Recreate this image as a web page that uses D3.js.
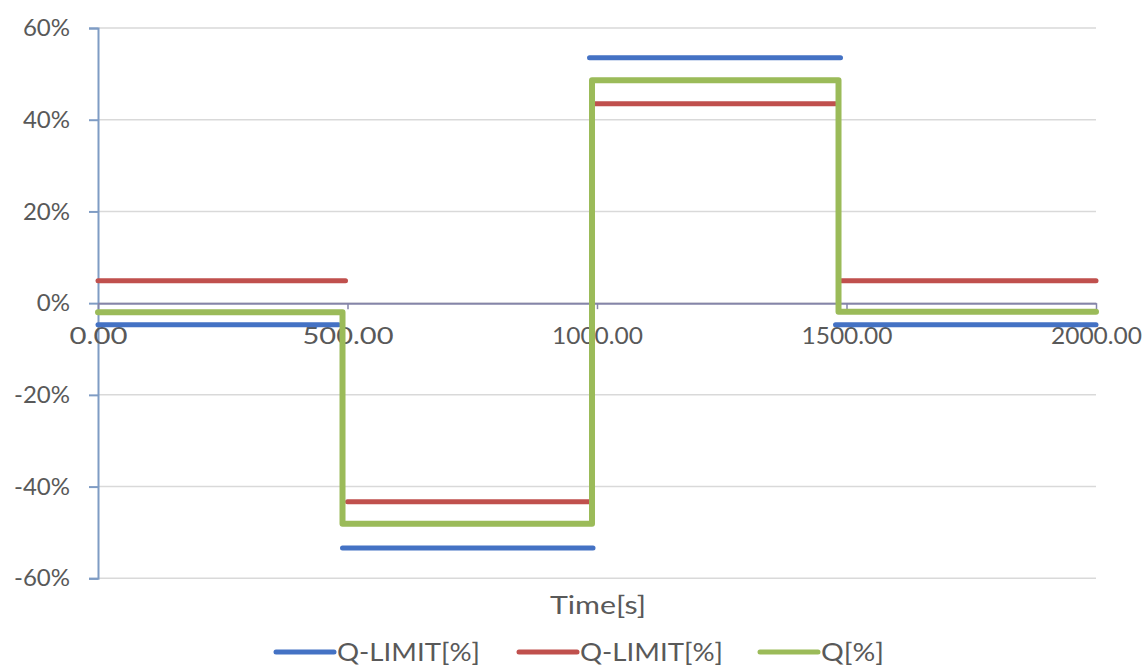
<!DOCTYPE html>
<html><head><meta charset="utf-8">
<script src="https://cdn.jsdelivr.net/npm/d3@7"></script>
<style>body{margin:0;background:#fff}svg{display:block}text{font-family:Lato,"Open Sans",sans-serif;fill:#595959}</style>
</head><body><svg id="c" width="1146" height="666"></svg>
<script>
// ---- data ----
const xTicks = [0, 500, 1000, 1500, 2000];
const yTicks = [-60, -40, -20, 0, 20, 40, 60];
const seriesNames = ["Q-LIMIT[%]", "Q-LIMIT[%]", "Q[%]"];
const seriesColors = ["#4472c4", "#c0504d", "#9bbb59"];
// Q-LIMIT (blue): segments [start, end], values
const blueSegTimes = [[0, 482], [490, 992], [985, 1488], [1478, 2000]];
const blueSegValues = [-4.7, -53.4, 53.5, -4.7];
// Q-LIMIT (red)
const redSegTimes = [[0, 496], [500, 984], [996, 1478], [1490, 2000]];
const redSegValues = [4.9, -43.3, 43.5, 4.9];
// Q (green), step path points
const qTimes = [0, 490, 490, 990, 990, 1484, 1484, 2000];
const qValues = [-2.0, -2.0, -48.1, -48.1, 48.6, 48.6, -1.9, -1.9];

// ---- layout ----
const svg = d3.select("#c");
const x = d3.scaleLinear().domain([0, 2000]).range([98, 1096]);
const y = d3.scaleLinear().domain([-60, 60]).range([578.3, 28]);

// gridlines
svg.append("g").selectAll("line").data(yTicks).join("line")
  .attr("x1", 98).attr("x2", 1096)
  .attr("y1", d => y(d)).attr("y2", d => y(d))
  .attr("stroke", "#d9d9d9").attr("stroke-width", 1.5);

// y axis
const yAxis = svg.append("g").attr("transform", "translate(98,0)")
  .call(d3.axisLeft(y).tickValues(yTicks).tickSize(9).tickFormat(d => d + "%"));
yAxis.select(".domain").attr("stroke", "#7f9cc4").attr("stroke-width", 2);
yAxis.selectAll(".tick line").attr("stroke", "#7f9cc4").attr("stroke-width", 2);
yAxis.selectAll(".tick text").attr("x", -28).attr("font-size", 24)
  .style("font-family", "Lato, sans-serif").attr("fill", "#595959");

// x axis at y=0
const xAxis = svg.append("g").attr("transform", `translate(0,${y(0)})`)
  .call(d3.axisBottom(x).tickValues(xTicks).tickSize(6).tickSizeOuter(0).tickFormat(d3.format(".2f")));
xAxis.select(".domain").attr("stroke", "#8585a8").attr("stroke-width", 2);
xAxis.selectAll(".tick line").attr("stroke", "#8585a8").attr("stroke-width", 1.5);
xAxis.selectAll(".tick text").attr("y", 24).attr("dy", "0.71em").attr("font-size", 24)
  .attr("textLength", 91).attr("lengthAdjust", "spacingAndGlyphs")
  .style("font-family", "Lato, sans-serif").attr("fill", "#595959");
xAxis.selectAll(".tick text").filter(d => d === 0).attr("textLength", 58);

const line = d3.line().x(d => x(d[0])).y(d => y(d[1]));

function drawSegs(times, values, color) {
  svg.append("g").selectAll("path").data(times.map((t, i) => [[t[0], values[i]], [t[1], values[i]]]))
    .join("path").attr("d", line).attr("fill", "none")
    .attr("stroke", color).attr("stroke-width", 5).attr("stroke-linecap", "round");
}
drawSegs(blueSegTimes, blueSegValues, seriesColors[0]);
drawSegs(redSegTimes, redSegValues, seriesColors[1]);

svg.append("path").datum(qTimes.map((t, i) => [t, qValues[i]]))
  .attr("d", line).attr("fill", "none").attr("stroke", seriesColors[2])
  .attr("stroke-width", 6).attr("stroke-linejoin", "round").attr("stroke-linecap", "round");

// axis title
svg.append("text").attr("x", 598).attr("y", 614).attr("text-anchor", "middle")
  .attr("font-size", 25).attr("textLength", 96).attr("lengthAdjust", "spacingAndGlyphs").text("Time[s]");

// legend
const legX = [276, 519, 760];
const legTextLen = [143, 143, 63];
const lg = svg.append("g").selectAll("g").data(seriesNames).join("g")
  .attr("transform", (d, i) => `translate(${legX[i]},652)`);
lg.append("line").attr("x1", 0).attr("x2", 58).attr("y1", 0).attr("y2", 0)
  .attr("stroke", (d, i) => seriesColors[i]).attr("stroke-width", 5).attr("stroke-linecap", "round");
lg.append("text").attr("x", 61).attr("y", 0).attr("dy", "0.35em").attr("font-size", 25)
  .attr("textLength", (d, i) => legTextLen[i]).attr("lengthAdjust", "spacingAndGlyphs").text(d => d);
</script></body></html>
